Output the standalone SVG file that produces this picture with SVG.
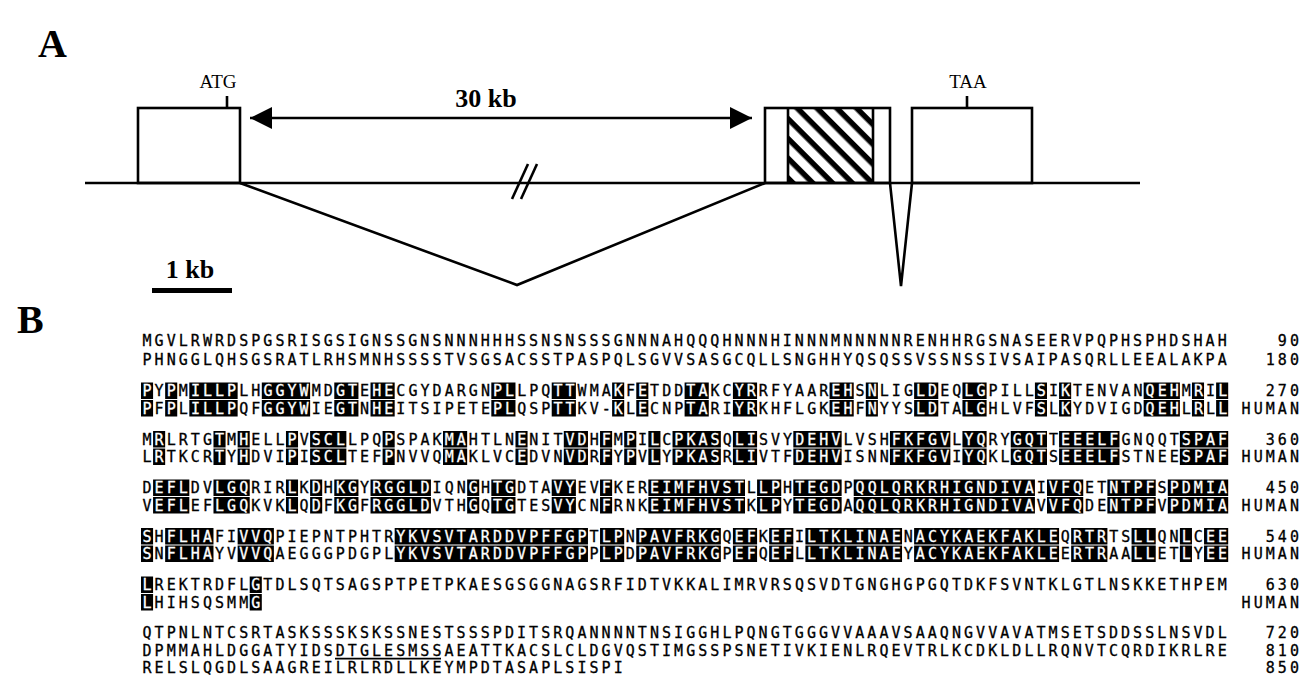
<svg xmlns="http://www.w3.org/2000/svg" xmlns:xlink="http://www.w3.org/1999/xlink" width="1308" height="675" viewBox="0 0 1308 675">
<style>
.lbl{font-family:"Liberation Serif","Times New Roman",serif;font-weight:bold;fill:#000}
.cod{font-family:"Liberation Serif","Times New Roman",serif;font-size:19px;fill:#000;text-anchor:middle}
.ln{fill:none;stroke:#000;stroke-width:2.6;stroke-linejoin:miter}
.seq{font-family:"DejaVu Sans Mono","Liberation Mono",monospace;font-size:15px;letter-spacing:3.05px;fill:#000;stroke:#000;stroke-width:0.3}
.num{font-family:"DejaVu Sans Mono","Liberation Mono",monospace;font-size:15px;letter-spacing:3.05px;fill:#000;stroke:#000;stroke-width:0.3;text-anchor:end}
.w{fill:#fff;stroke:#fff}
.hl rect{fill:#000}
</style>
<defs>
<pattern id="hatch" patternUnits="userSpaceOnUse" width="14" height="14" patternTransform="rotate(45)">
<rect x="0" y="0" width="14" height="5.5" fill="#000"/>
</pattern>
<marker id="ah" viewBox="0 0 10 10" refX="10" refY="5" markerWidth="28" markerHeight="22" markerUnits="userSpaceOnUse" orient="auto-start-reverse">
<path d="M0,0 L10,5 L0,10 Z" fill="#000"/>
</marker>
</defs>

<g id="panelA">
<text class="lbl" x="38" y="57" font-size="40">A</text>
<g id="exon1">
<rect class="ln" x="138" y="108" width="102" height="75"/>
<line class="ln" x1="227" y1="96" x2="227" y2="108"/>
<text class="cod" x="218" y="88">ATG</text>
</g>
<g id="exon2">
<rect x="788" y="108" width="85" height="75" fill="url(#hatch)"/>
<rect class="ln" x="765" y="108" width="125" height="75"/>
<line class="ln" x1="788" y1="108" x2="788" y2="183"/>
<line class="ln" x1="873" y1="108" x2="873" y2="183"/>
</g>
<g id="exon3">
<rect class="ln" x="912" y="108" width="120" height="75"/>
<line class="ln" x1="967" y1="96" x2="967" y2="108"/>
<text class="cod" x="968" y="88">TAA</text>
</g>
<g id="connectors">
<line class="ln" x1="85" y1="183" x2="1140" y2="183"/>
<polyline class="ln" points="240,183 517,285 765,183"/>
<polyline class="ln" points="890,183 901,286 912,183"/>
<line class="ln" x1="528" y1="164" x2="512" y2="199"/>
<line class="ln" x1="537" y1="164" x2="521" y2="199"/>
<line x1="250" y1="118" x2="752" y2="118" stroke="#000" stroke-width="2.6" marker-start="url(#ah)" marker-end="url(#ah)"/>
</g>
<text class="lbl" x="486" y="107" font-size="26" text-anchor="middle">30 kb</text>
<g id="scalebar">
<rect x="152" y="288" width="80" height="5" fill="#000"/>
<text class="lbl" x="190" y="278" font-size="26" text-anchor="middle">1 kb</text>
</g>
</g>

<g id="panelB">
<text class="lbl" x="17" y="333" font-size="40">B</text>

<g class="hl">
<g id="h270" transform="translate(141 382.5) scale(12.08 1)"><rect x="0" y="0" width="1" height="16.5"/><rect x="2" y="0" width="1" height="16.5"/><rect x="4" y="0" width="4" height="16.5"/><rect x="10" y="0" width="4" height="16.5"/><rect x="16" y="0" width="2" height="16.5"/><rect x="19" y="0" width="2" height="16.5"/><rect x="29" y="0" width="2" height="16.5"/><rect x="34" y="0" width="2" height="16.5"/><rect x="39" y="0" width="1" height="16.5"/><rect x="41" y="0" width="1" height="16.5"/><rect x="45" y="0" width="2" height="16.5"/><rect x="49" y="0" width="2" height="16.5"/><rect x="57" y="0" width="2" height="16.5"/><rect x="60" y="0" width="1" height="16.5"/><rect x="64" y="0" width="2" height="16.5"/><rect x="68" y="0" width="2" height="16.5"/><rect x="74" y="0" width="1" height="16.5"/><rect x="76" y="0" width="1" height="16.5"/><rect x="83" y="0" width="3" height="16.5"/><rect x="87" y="0" width="1" height="16.5"/><rect x="89" y="0" width="1" height="16.5"/></g>
<use xlink:href="#h270" href="#h270" transform="translate(0 17.5)"/>
<g id="h360" transform="translate(141 431) scale(12.08 1)"><rect x="1" y="0" width="1" height="16.5"/><rect x="6" y="0" width="1" height="16.5"/><rect x="8" y="0" width="1" height="16.5"/><rect x="12" y="0" width="1" height="16.5"/><rect x="14" y="0" width="3" height="16.5"/><rect x="20" y="0" width="1" height="16.5"/><rect x="25" y="0" width="2" height="16.5"/><rect x="31" y="0" width="1" height="16.5"/><rect x="35" y="0" width="2" height="16.5"/><rect x="38" y="0" width="1" height="16.5"/><rect x="40" y="0" width="1" height="16.5"/><rect x="42" y="0" width="1" height="16.5"/><rect x="44" y="0" width="4" height="16.5"/><rect x="49" y="0" width="2" height="16.5"/><rect x="54" y="0" width="4" height="16.5"/><rect x="62" y="0" width="5" height="16.5"/><rect x="68" y="0" width="2" height="16.5"/><rect x="72" y="0" width="3" height="16.5"/><rect x="76" y="0" width="5" height="16.5"/><rect x="86" y="0" width="4" height="16.5"/></g>
<use xlink:href="#h360" href="#h360" transform="translate(0 17.5)"/>
<g id="h450" transform="translate(141 479.5) scale(12.08 1)"><rect x="1" y="0" width="3" height="16.5"/><rect x="6" y="0" width="3" height="16.5"/><rect x="12" y="0" width="1" height="16.5"/><rect x="14" y="0" width="1" height="16.5"/><rect x="16" y="0" width="2" height="16.5"/><rect x="19" y="0" width="5" height="16.5"/><rect x="27" y="0" width="1" height="16.5"/><rect x="29" y="0" width="2" height="16.5"/><rect x="34" y="0" width="2" height="16.5"/><rect x="38" y="0" width="1" height="16.5"/><rect x="42" y="0" width="8" height="16.5"/><rect x="51" y="0" width="2" height="16.5"/><rect x="54" y="0" width="4" height="16.5"/><rect x="59" y="0" width="15" height="16.5"/><rect x="75" y="0" width="3" height="16.5"/><rect x="80" y="0" width="4" height="16.5"/><rect x="85" y="0" width="5" height="16.5"/></g>
<use xlink:href="#h450" href="#h450" transform="translate(0 17.5)"/>
<g id="h540" transform="translate(141 528) scale(12.08 1)"><rect x="0" y="0" width="1" height="16.5"/><rect x="2" y="0" width="4" height="16.5"/><rect x="8" y="0" width="3" height="16.5"/><rect x="21" y="0" width="16" height="16.5"/><rect x="38" y="0" width="2" height="16.5"/><rect x="41" y="0" width="7" height="16.5"/><rect x="49" y="0" width="2" height="16.5"/><rect x="52" y="0" width="2" height="16.5"/><rect x="55" y="0" width="8" height="16.5"/><rect x="64" y="0" width="12" height="16.5"/><rect x="77" y="0" width="3" height="16.5"/><rect x="82" y="0" width="2" height="16.5"/><rect x="86" y="0" width="1" height="16.5"/><rect x="88" y="0" width="2" height="16.5"/></g>
<use xlink:href="#h540" href="#h540" transform="translate(0 17.5)"/>
<g id="h630" transform="translate(141 576.5) scale(12.08 1)"><rect x="0" y="0" width="1" height="16.5"/><rect x="9" y="0" width="1" height="16.5"/></g>
<use xlink:href="#h630" href="#h630" transform="translate(0 17.5)"/>
</g>

<g id="seq-rows">
<text class="seq" x="142.5" y="346.4">MGVLRWRDSPGSRISGSIGNSSGNSNNNHHHSSNSNSSSGNNNAHQQQHNNNHINNNMNNNNNRENHHRGSNASEERVPQPHSPHDSHAH</text>
<text class="seq" x="142.5" y="364.9">PHNGGLQHSGSRATLRHSMNHSSSSTVSGSACSSTPASPQLSGVVSASGCQLLSNGHHYQSQSSVSSNSSIVSAIPASQRLLEEALAKPA</text>

<text class="seq" x="142.5" y="396.4"><tspan class="w">P</tspan>Y<tspan class="w">P</tspan>M<tspan class="w">ILLP</tspan>LH<tspan class="w">GGYW</tspan>MD<tspan class="w">GT</tspan>E<tspan class="w">HE</tspan>CGYDARGN<tspan class="w">PL</tspan>LPQ<tspan class="w">TT</tspan>WMA<tspan class="w">K</tspan>F<tspan class="w">E</tspan>TDD<tspan class="w">TA</tspan>KC<tspan class="w">YR</tspan>RFYAAR<tspan class="w">EH</tspan>S<tspan class="w">N</tspan>LIG<tspan class="w">LD</tspan>EQ<tspan class="w">LG</tspan>PILL<tspan class="w">S</tspan>I<tspan class="w">K</tspan>TENVAN<tspan class="w">QEH</tspan>M<tspan class="w">R</tspan>I<tspan class="w">L</tspan></text>
<text class="seq" x="142.5" y="413.9"><tspan class="w">P</tspan>F<tspan class="w">P</tspan>L<tspan class="w">ILLP</tspan>QF<tspan class="w">GGYW</tspan>IE<tspan class="w">GT</tspan>N<tspan class="w">HE</tspan>ITSIPETE<tspan class="w">PL</tspan>QSP<tspan class="w">TT</tspan>KV-<tspan class="w">K</tspan>L<tspan class="w">E</tspan>CNP<tspan class="w">TA</tspan>RI<tspan class="w">YR</tspan>KHFLGK<tspan class="w">EH</tspan>F<tspan class="w">N</tspan>YYS<tspan class="w">LD</tspan>TA<tspan class="w">LG</tspan>HLVF<tspan class="w">S</tspan>L<tspan class="w">K</tspan>YDVIGD<tspan class="w">QEH</tspan>L<tspan class="w">R</tspan>L<tspan class="w">L</tspan></text>

<text class="seq" x="142.5" y="444.9">M<tspan class="w">R</tspan>LRTG<tspan class="w">T</tspan>M<tspan class="w">H</tspan>ELL<tspan class="w">P</tspan>V<tspan class="w">SCL</tspan>LPQ<tspan class="w">P</tspan>SPAK<tspan class="w">MA</tspan>HTLN<tspan class="w">E</tspan>NIT<tspan class="w">VD</tspan>H<tspan class="w">F</tspan>M<tspan class="w">P</tspan>I<tspan class="w">L</tspan>C<tspan class="w">PKAS</tspan>Q<tspan class="w">LI</tspan>SVY<tspan class="w">DEHV</tspan>LVSH<tspan class="w">FKFGV</tspan>L<tspan class="w">YQ</tspan>RY<tspan class="w">GQT</tspan>T<tspan class="w">EEELF</tspan>GNQQT<tspan class="w">SPAF</tspan></text>
<text class="seq" x="142.5" y="462.4">L<tspan class="w">R</tspan>TKCR<tspan class="w">T</tspan>Y<tspan class="w">H</tspan>DVI<tspan class="w">P</tspan>I<tspan class="w">SCL</tspan>TEF<tspan class="w">P</tspan>NVVQ<tspan class="w">MA</tspan>KLVC<tspan class="w">E</tspan>DVN<tspan class="w">VD</tspan>R<tspan class="w">F</tspan>Y<tspan class="w">P</tspan>V<tspan class="w">L</tspan>Y<tspan class="w">PKAS</tspan>R<tspan class="w">LI</tspan>VTF<tspan class="w">DEHV</tspan>ISNN<tspan class="w">FKFGV</tspan>I<tspan class="w">YQ</tspan>KL<tspan class="w">GQT</tspan>S<tspan class="w">EEELF</tspan>STNEE<tspan class="w">SPAF</tspan></text>

<text class="seq" x="142.5" y="493.4">D<tspan class="w">EFL</tspan>DV<tspan class="w">LGQ</tspan>RIR<tspan class="w">L</tspan>K<tspan class="w">D</tspan>H<tspan class="w">KG</tspan>Y<tspan class="w">RGGLD</tspan>IQN<tspan class="w">G</tspan>H<tspan class="w">TG</tspan>DTA<tspan class="w">VY</tspan>EV<tspan class="w">F</tspan>KER<tspan class="w">EIMFHVST</tspan>L<tspan class="w">LP</tspan>H<tspan class="w">TEGD</tspan>P<tspan class="w">QQLQRKRHIGNDIVA</tspan>I<tspan class="w">VFQ</tspan>ET<tspan class="w">NTPF</tspan>S<tspan class="w">PDMIA</tspan></text>
<text class="seq" x="142.5" y="510.9">V<tspan class="w">EFL</tspan>EF<tspan class="w">LGQ</tspan>KVK<tspan class="w">L</tspan>Q<tspan class="w">D</tspan>F<tspan class="w">KG</tspan>F<tspan class="w">RGGLD</tspan>VTH<tspan class="w">G</tspan>Q<tspan class="w">TG</tspan>TES<tspan class="w">VY</tspan>CN<tspan class="w">F</tspan>RNK<tspan class="w">EIMFHVST</tspan>K<tspan class="w">LP</tspan>Y<tspan class="w">TEGD</tspan>A<tspan class="w">QQLQRKRHIGNDIVA</tspan>V<tspan class="w">VFQ</tspan>DE<tspan class="w">NTPF</tspan>V<tspan class="w">PDMIA</tspan></text>

<text class="seq" x="142.5" y="541.9"><tspan class="w">S</tspan>H<tspan class="w">FLHA</tspan>FI<tspan class="w">VVQ</tspan>PIEPNTPHTR<tspan class="w">YKVSVTARDDVPFFGP</tspan>T<tspan class="w">LP</tspan>N<tspan class="w">PAVFRKG</tspan>Q<tspan class="w">EF</tspan>K<tspan class="w">EF</tspan>I<tspan class="w">LTKLINAE</tspan>N<tspan class="w">ACYKAEKFAKLE</tspan>Q<tspan class="w">RTR</tspan>TS<tspan class="w">LL</tspan>QN<tspan class="w">L</tspan>C<tspan class="w">EE</tspan></text>
<text class="seq" x="142.5" y="559.4"><tspan class="w">S</tspan>N<tspan class="w">FLHA</tspan>YV<tspan class="w">VVQ</tspan>AEGGGPDGPL<tspan class="w">YKVSVTARDDVPFFGP</tspan>P<tspan class="w">LP</tspan>D<tspan class="w">PAVFRKG</tspan>P<tspan class="w">EF</tspan>Q<tspan class="w">EF</tspan>L<tspan class="w">LTKLINAE</tspan>Y<tspan class="w">ACYKAEKFAKLE</tspan>E<tspan class="w">RTR</tspan>AA<tspan class="w">LL</tspan>ET<tspan class="w">L</tspan>Y<tspan class="w">EE</tspan></text>

<text class="seq" x="142.5" y="590.4"><tspan class="w">L</tspan>REKTRDFL<tspan class="w">G</tspan>TDLSQTSAGSPTPETPKAESGSGGNAGSRFIDTVKKALIMRVRSQSVDTGNGHGPGQTDKFSVNTKLGTLNSKKETHPEM</text>
<text class="seq" x="142.5" y="607.9"><tspan class="w">L</tspan>HIHSQSMM<tspan class="w">G</tspan></text>

<text class="seq" x="142.5" y="638.4">QTPNLNTCSRTASKSSSKSKSSNESTSSSPDITSRQANNNNTNSIGGHLPQNGTGGGVVAAAVSAAQNGVVAVATMSETSDDSSLNSVDL</text>
<text class="seq" x="142.5" y="655.9">DPMMAHLDGGATYIDSDTGLESMSSAEATTKACSLCLDGVQSTIMGSSPSNETIVKIENLRQEVTRLKCDKLDLLRQNVTCQRDIKRLRE</text>
<line x1="335" y1="658.6" x2="441" y2="658.6" stroke="#000" stroke-width="1.6"/>
<text class="seq" x="142.5" y="673.4">RELSLQGDLSAAGREILRLRDLLKEYMPDTASAPLSISPI</text>
</g>

<g id="numbers">
<text class="num" x="1302" y="346.4">90</text>
<text class="num" x="1302" y="364.9">180</text>
<text class="num" x="1302" y="396.4">270</text>
<text class="num" x="1302" y="413.9">HUMAN</text>
<text class="num" x="1302" y="444.9">360</text>
<text class="num" x="1302" y="462.4">HUMAN</text>
<text class="num" x="1302" y="493.4">450</text>
<text class="num" x="1302" y="510.9">HUMAN</text>
<text class="num" x="1302" y="541.9">540</text>
<text class="num" x="1302" y="559.4">HUMAN</text>
<text class="num" x="1302" y="590.4">630</text>
<text class="num" x="1302" y="607.9">HUMAN</text>
<text class="num" x="1302" y="638.4">720</text>
<text class="num" x="1302" y="655.9">810</text>
<text class="num" x="1302" y="673.4">850</text>
</g>
</g>
</svg>
